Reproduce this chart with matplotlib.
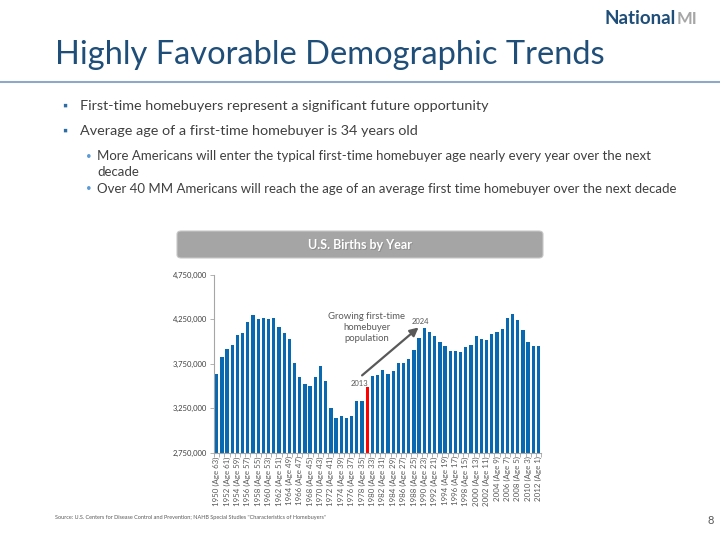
import numpy as np
import matplotlib.pyplot as plt
from matplotlib.patches import FancyBboxPatch
from matplotlib.lines import Line2D

# U.S. births by year, 1950-2012
years = list(range(1950, 2013))
births = [3632000, 3823000, 3913000, 3965000, 4078000, 4097000, 4218000,
          4300000, 4255000, 4270000, 4258000, 4265000, 4167000, 4098000,
          4027000, 3760000, 3606000, 3521000, 3502000, 3600000, 3731000,
          3556000, 3258000, 3137000, 3160000, 3144000, 3168000, 3327000,
          3333000, 3494000, 3612000, 3629000, 3681000, 3639000, 3669000,
          3761000, 3757000, 3809000, 3910000, 4041000, 4158000, 4111000,
          4065000, 4000000, 3953000, 3900000, 3891000, 3881000, 3942000,
          3959000, 4059000, 4026000, 4022000, 4090000, 4112000, 4138000,
          4266000, 4316000, 4248000, 4131000, 3999000, 3954000, 3953000]
highlight_year = 1979
base_year = 2013
y_ticks = [2750000, 3250000, 3750000, 4250000, 4750000]

title = "Highly Favorable Demographic Trends"
bullets = ["First-time homebuyers represent a significant future opportunity",
           "Average age of a first-time homebuyer is 34 years old"]
sub_bullets = [["More Americans will enter the typical first-time homebuyer age nearly every year over the next",
                "decade"],
               ["Over 40 MM Americans will reach the age of an average first time homebuyer over the next decade"]]
source = 'Source: U.S. Centers for Disease Control and Prevention; NAHB Special Studies "Characteristics of Homebuyers"'

FONT = "Lato"
plt.rcParams['font.family'] = FONT
W, H = 720, 540
fig = plt.figure(figsize=(7.2, 5.4), dpi=100)


def fx(px):
    return px / W


def fy(py):
    return 1 - py / H


# header
fig.text(fx(55), fy(55), title, fontsize=23.5, color="#1F4E79", va="center", ha="left")
fig.add_artist(Line2D([0, 1], [fy(82), fy(82)], color="#8FA8C6", lw=1.5))
logo = fig.text(fx(604), fy(19), "National", fontsize=13.5, fontweight="bold",
                color="#1F4E79", va="center")
fig.canvas.draw()
bb = logo.get_window_extent()
fig.text(fx(bb.x1 + 1), fy(19), "MI", fontsize=12, fontweight="bold",
         color="#A6A6A6", va="center")

# bullets
for i, b in enumerate(bullets):
    yy = 106 + i * 25
    fig.text(fx(62), fy(yy), "\u25aa", fontsize=9, color="#2E6DA4", va="center")
    fig.text(fx(80), fy(yy), b, fontsize=10.4, color="#404040", va="center")
sub_y = [156, 189]
for yy, lines in zip(sub_y, sub_bullets):
    fig.text(fx(86), fy(yy), "\u2022", fontsize=7, color="#5B9BD5", va="center")
    for k, line in enumerate(lines):
        fig.text(fx(97), fy(yy + k * 16), line, fontsize=9.5, color="#404040", va="center")

# chart banner
box = FancyBboxPatch((fx(177), fy(258)), fx(543 - 177), (258 - 231) / H,
                     boxstyle="round,pad=0,rounding_size=0.006",
                     transform=fig.transFigure, facecolor="#A5A5A5",
                     edgecolor="#C8C8C8", lw=0.8)
fig.add_artist(box)
fig.text(fx(360.6), fy(245.6), "U.S. Births by Year", fontsize=9, fontweight="bold",
         color="#7F7F7F", ha="center", va="center", alpha=0.6)
fig.text(fx(360), fy(245), "U.S. Births by Year", fontsize=9, fontweight="bold",
         color="white", ha="center", va="center")

# chart
ax = fig.add_axes([fx(214.1), fy(452.7), fx(541.1 - 214.1), (452.7 - 275) / H])
x = np.arange(len(years))
colors = ["#FF0000" if y == highlight_year else "#0869B0" for y in years]
ax.bar(x, births, width=0.64, color=colors, zorder=2)
ax.set_xlim(-0.5, len(years) - 0.5)
ax.set_ylim(y_ticks[0], y_ticks[-1])
ax.set_yticks(y_ticks)
ax.set_yticklabels([f"{v:,}" for v in y_ticks], fontsize=5.5, color="#404040")
ax.set_xticks(x[::2])
ax.set_xticklabels([f"{y} (Age {base_year - y})" for y in years[::2]],
                   rotation=90, fontsize=5.7, color="#595959")
ax.set_xticks(np.arange(-0.5, len(years), 1), minor=True)
ax.tick_params(axis="x", which="major", length=0, pad=2.5)
ax.tick_params(axis="x", which="minor", length=3, color="#A6A6A6", width=0.6)
ax.tick_params(axis="y", length=3, color="#A6A6A6", width=0.6, pad=2)
for s in ["top", "right"]:
    ax.spines[s].set_visible(False)
for s in ["left", "bottom"]:
    ax.spines[s].set_color("#A6A6A6")
    ax.spines[s].set_linewidth(0.8)

hi = years.index(highlight_year)
ax.annotate("", xy=(hi + 10.3, 4180000), xytext=(hi - 1.4, 3600000),
            arrowprops=dict(arrowstyle="-|>,head_length=0.5,head_width=0.25",
                            color="#595959", lw=1.6))
ax.text(hi - 1.5, 3530000, str(base_year), fontsize=5.5, color="#595959",
        ha="center", va="center")
ax.text(hi + 10.2, 4230000, str(base_year + 11), fontsize=5.5, color="#595959",
        ha="center", va="center")
ax.text(hi - 0.1, 4330000, "Growing first-time\nhomebuyer\npopulation", fontsize=6.8,
        color="#595959", ha="center", va="top", linespacing=1.25)

# footer
fig.text(fx(55), fy(517), source, fontsize=4.0, color="#595959", va="center")
fig.text(fx(707), fy(521), "8", fontsize=8, color="#595959", va="center")

fig.savefig("out.png", dpi=100)
